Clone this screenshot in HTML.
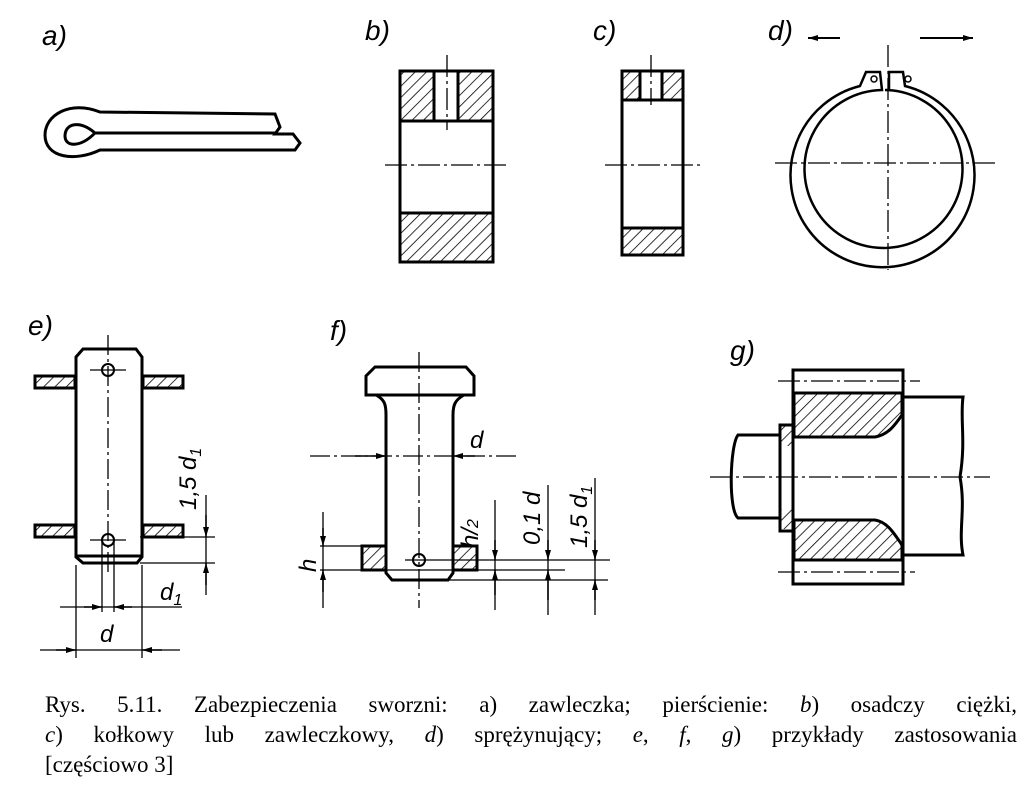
<!DOCTYPE html>
<html><head><meta charset="utf-8"><style>
body{margin:0;background:#fff;width:1024px;height:795px;overflow:hidden;position:relative}
svg{position:absolute;left:0;top:0}
.cap{position:absolute;left:45px;width:972px;font-family:"Liberation Serif",serif;font-size:23px;line-height:30px;text-align:justify;text-align-last:justify;color:#000;white-space:nowrap}
</style></head><body>
<svg width="1024" height="795" viewBox="0 0 1024 795">
<defs>
<pattern id="h" width="8" height="8" patternUnits="userSpaceOnUse" patternTransform="rotate(45)"><line x1="0" y1="0" x2="0" y2="8" stroke="#000" stroke-width="1.6"/></pattern>
<marker id="ar" viewBox="0 0 10 6" refX="10" refY="3" markerWidth="10" markerHeight="6" orient="auto-start-reverse" markerUnits="userSpaceOnUse"><path d="M0,0L10,3L0,6z" fill="#000"/></marker>
</defs>
<g font-family="Liberation Sans,sans-serif" font-style="italic" font-size="28" fill="#000">
<text x="42" y="45">a)</text><text x="365" y="40">b)</text><text x="593" y="40">c)</text><text x="768" y="40">d)</text>
<text x="28" y="335">e)</text><text x="330" y="340">f)</text><text x="730" y="360">g)</text>
</g>
<g fill="none" stroke="#000" stroke-width="3">
<path d="M100,112 C70,100 45,115 45,135 C45,158 75,162 100,150 L295,150 L300,143 L293,134 L275,134 L280,127 L275,114 L100,112 Z"/>
<path d="M95,133 C80,120 65,123 65,136 C65,147 80,148 95,133 L275,133"/>
<rect x="400" y="71" width="93" height="191"/>
<rect x="401" y="72" width="33" height="48" fill="url(#h)" stroke="none"/>
<rect x="459" y="72" width="33" height="48" fill="url(#h)" stroke="none"/>
<rect x="401" y="214" width="91" height="47" fill="url(#h)" stroke="none"/>
<line x1="400" y1="121" x2="493" y2="121"/><line x1="400" y1="213" x2="493" y2="213"/>
<line x1="434" y1="71" x2="434" y2="121"/><line x1="458" y1="71" x2="458" y2="121"/>
<rect x="622" y="71" width="61" height="184"/>
<rect x="623" y="72" width="17" height="27" fill="url(#h)" stroke="none"/>
<rect x="662" y="72" width="20" height="27" fill="url(#h)" stroke="none"/>
<rect x="623" y="229" width="59" height="25" fill="url(#h)" stroke="none"/>
<line x1="622" y1="100" x2="683" y2="100"/><line x1="622" y1="228" x2="683" y2="228"/>
<line x1="640" y1="71" x2="640" y2="100"/><line x1="662" y1="71" x2="662" y2="100"/>
<path d="M905,86 A92,92 0 1 1 860,86 L866,72 L880,72 L882,90 A79,79 0 1 0 885,90 L889,90 L889,72 L903,72 Z" stroke-width="2.5"/>
<circle cx="874" cy="79" r="3" stroke-width="1.5"/><circle cx="908" cy="79" r="3" stroke-width="1.5"/>
</g>
<g stroke="#000" stroke-width="1.3" stroke-dasharray="22,4,3,4" fill="none">
<line x1="447" y1="55" x2="447" y2="130"/><line x1="385" y1="165" x2="510" y2="165"/>
<line x1="651" y1="55" x2="651" y2="105"/><line x1="605" y1="165" x2="700" y2="165"/>
<line x1="888" y1="45" x2="888" y2="270"/><line x1="775" y1="163" x2="995" y2="163"/>
</g>
<g stroke="#000" stroke-width="2">
<line x1="840" y1="38" x2="808" y2="38" marker-end="url(#ar)"/>
<line x1="920" y1="38" x2="973" y2="38" marker-end="url(#ar)"/>
</g>
<g fill="none" stroke="#000" stroke-width="3">
<path d="M76,557 L76,357 L83,349 L136,349 L142,357 L142,557 L137,563 L83,563 Z"/>
<line x1="76" y1="556" x2="142" y2="556"/>
<rect x="35" y="376" width="40" height="12" fill="url(#h)"/><rect x="143" y="376" width="40" height="12" fill="url(#h)"/>
<rect x="35" y="525" width="40" height="12" fill="url(#h)"/><rect x="143" y="525" width="40" height="12" fill="url(#h)"/>
<circle cx="108" cy="370" r="6" stroke-width="2"/><circle cx="108" cy="540" r="6" stroke-width="2"/>
</g>
<g stroke="#000" stroke-width="1.3" fill="none">
<line x1="108" y1="335" x2="108" y2="575" stroke-dasharray="20,4,3,4"/>
<line x1="90" y1="370" x2="126" y2="370"/><line x1="90" y1="540" x2="126" y2="540"/>
<line x1="102" y1="540" x2="102" y2="612"/><line x1="114" y1="540" x2="114" y2="612"/>
<line x1="76" y1="565" x2="76" y2="658"/><line x1="142" y1="565" x2="142" y2="658"/>
<line x1="140" y1="537" x2="215" y2="537"/><line x1="140" y1="563" x2="215" y2="563"/>
<line x1="60" y1="607" x2="182" y2="607"/><line x1="40" y1="650" x2="180" y2="650"/>
<line x1="206" y1="495" x2="206" y2="595"/>
</g>
<g stroke="#000" stroke-width="1.5">
<line x1="206" y1="515" x2="206" y2="537" marker-end="url(#ar)"/><line x1="206" y1="585" x2="206" y2="563" marker-end="url(#ar)"/>
<line x1="84" y1="607" x2="102" y2="607" marker-end="url(#ar)"/><line x1="132" y1="607" x2="114" y2="607" marker-end="url(#ar)"/>
<line x1="56" y1="650" x2="76" y2="650" marker-end="url(#ar)"/><line x1="162" y1="650" x2="142" y2="650" marker-end="url(#ar)"/>
</g>
<g fill="none" stroke="#000" stroke-width="3">
<path d="M366,395 L366,376 L375,367 L466,367 L474,376 L474,395 Z"/>
<path d="M376,395 C385,400 386,405 386,415 L386,573 L392,580 L448,580 L453,573 L453,415 C453,405 455,400 464,395"/>
<rect x="362" y="546" width="24" height="24" fill="url(#h)"/><rect x="453" y="546" width="24" height="24" fill="url(#h)"/>
<circle cx="419" cy="560" r="6" stroke-width="2"/>
</g>
<g stroke="#000" stroke-width="1.3" fill="none">
<line x1="419" y1="352" x2="419" y2="608" stroke-dasharray="20,4,3,4"/>
<line x1="310" y1="456" x2="520" y2="456" stroke-dasharray="20,4,3,4"/>
<line x1="320" y1="546" x2="362" y2="546"/><line x1="320" y1="570" x2="565" y2="570"/>
<line x1="405" y1="560" x2="610" y2="560"/><line x1="448" y1="580" x2="608" y2="580"/>
<line x1="323" y1="512" x2="323" y2="608"/><line x1="495" y1="500" x2="495" y2="610"/>
<line x1="548" y1="485" x2="548" y2="615"/><line x1="595" y1="478" x2="595" y2="615"/>
</g>
<g stroke="#000" stroke-width="1.5">
<line x1="355" y1="456" x2="386" y2="456" marker-end="url(#ar)"/><line x1="475" y1="456" x2="453" y2="456" marker-end="url(#ar)"/>
<line x1="323" y1="528" x2="323" y2="546" marker-end="url(#ar)"/><line x1="323" y1="592" x2="323" y2="570" marker-end="url(#ar)"/>
<line x1="495" y1="540" x2="495" y2="560" marker-end="url(#ar)"/><line x1="495" y1="595" x2="495" y2="570" marker-end="url(#ar)"/>
<line x1="548" y1="540" x2="548" y2="560" marker-end="url(#ar)"/><line x1="548" y1="600" x2="548" y2="570" marker-end="url(#ar)"/>
<line x1="595" y1="540" x2="595" y2="560" marker-end="url(#ar)"/><line x1="595" y1="600" x2="595" y2="580" marker-end="url(#ar)"/>
</g>
<g font-family="Liberation Sans,sans-serif" font-style="italic" font-size="24" fill="#000">
<text x="160" y="600">d<tspan font-size="16" dy="5">1</tspan></text>
<text x="100" y="642">d</text>
<text x="470" y="448">d</text>
<text transform="translate(196,510) rotate(-90)">1,5 d<tspan font-size="16" dy="5">1</tspan></text>
<text transform="translate(316,572) rotate(-90)">h</text>
<text transform="translate(478,548) rotate(-90)">h/<tspan font-size="16">2</tspan></text>
<text transform="translate(540,545) rotate(-90)">0,1 d</text>
<text transform="translate(587,548) rotate(-90)">1,5 d<tspan font-size="16" dy="5">1</tspan></text>
</g>
<g fill="none" stroke="#000" stroke-width="3">
<rect x="793" y="370" width="110" height="214"/>
<path d="M794,393 L902,393 L902,415 C895,425 888,435 875,437 L794,437 Z" fill="url(#h)"/>
<path d="M794,520 L875,520 C888,522 895,535 902,545 L902,560 L794,560 Z" fill="url(#h)"/>
<path d="M903,397 L963,397 C960,420 966,440 960,477 C966,510 958,530 963,555 L903,555"/>
<path d="M780,435 L738,435 C730,445 728,510 738,518 L780,518"/>
<rect x="780" y="425" width="13" height="106"/>
<rect x="781" y="426" width="11" height="20" fill="url(#h)" stroke="none"/><rect x="781" y="509" width="11" height="20" fill="url(#h)" stroke="none"/>
</g>
<g stroke="#000" stroke-width="1.3" stroke-dasharray="22,4,3,4">
<line x1="778" y1="381" x2="920" y2="381"/><line x1="778" y1="572" x2="915" y2="572"/>
<line x1="710" y1="477" x2="990" y2="477"/>
</g>
</svg>
<div class="cap" style="top:690px">Rys. 5.11. Zabezpieczenia sworzni: a) zawleczka; pierścienie: <i>b</i>) osadczy ciężki,</div>
<div class="cap" style="top:720px"><i>c</i>) kołkowy lub zawleczkowy, <i>d</i>) sprężynujący; <i>e</i>, <i>f</i>, <i>g</i>) przykłady zastosowania</div>
<div class="cap" style="top:750px;text-align-last:left">[częściowo 3]</div>
</body></html>
